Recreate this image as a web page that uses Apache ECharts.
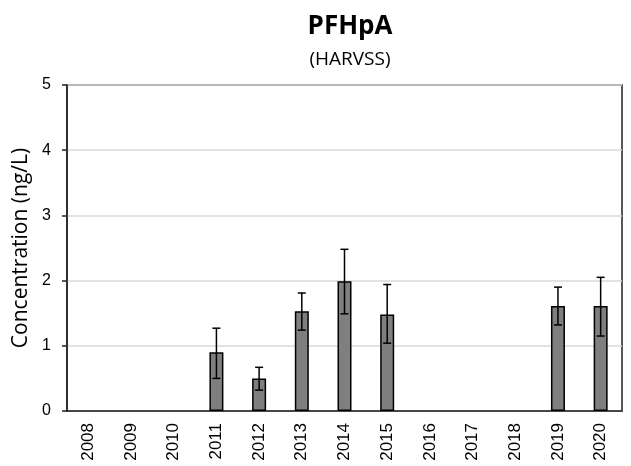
<!DOCTYPE html>
<html>
<head>
<meta charset="utf-8">
<script src="https://cdn.jsdelivr.net/npm/echarts@6/dist/echarts.min.js"></script>
<style>
html,body{margin:0;padding:0;background:#fff;}
#main{width:631px;height:466px;}
</style>
</head>
<body>
<div id="main"></div>
<script>
var years=['2008','2009','2010','2011','2012','2013','2014','2015','2016','2017','2018','2019','2020'];
var means=[null,null,null,0.90,0.50,1.53,1.99,1.48,null,null,null,1.61,1.61];
var errLow=[null,null,null,0.50,0.32,1.24,1.49,1.04,null,null,null,1.32,1.15];
var errHigh=[null,null,null,1.27,0.67,1.81,2.48,1.94,null,null,null,1.90,2.05];

var errData=[];
for(var i=0;i<years.length;++i){
	if(means[i]!=null){
		errData.push([i,errLow[i],errHigh[i]]);
	}
}

var myChart=echarts.init(document.getElementById('main'));
var option={
	animation:false,
	title:[
		{text:'PFHpA',left:345,top:9,textAlign:'center',
		 textStyle:{fontFamily:'Open Sans',fontSize:26,fontWeight:'bold',color:'#000'}},
		{text:'(HARVSS)',left:345,top:45,textAlign:'center',
		 textStyle:{fontFamily:'Open Sans',fontSize:19,fontWeight:'normal',color:'#000'}}
	],
	grid:{left:67,right:9,top:85,bottom:55,show:true,borderColor:'#222',borderWidth:1.5,backgroundColor:'transparent'},
	xAxis:{
		type:'category',
		data:years,
		axisLine:{lineStyle:{color:'#222',width:1.5}},
		axisTick:{alignWithLabel:true,length:5,lineStyle:{color:'#222',width:1.5}},
		axisLabel:{rotate:90,fontFamily:'Liberation Sans',fontSize:17,color:'#000',margin:12}
	},
	yAxis:{
		type:'value',
		min:0,max:5,interval:1,
		name:'Concentration (ng/L)',
		nameLocation:'middle',
		nameGap:35,
		nameTextStyle:{fontFamily:'Open Sans',fontSize:21,color:'#000'},
		axisLine:{show:true,lineStyle:{color:'#222',width:1.5}},
		axisTick:{show:true,length:5,lineStyle:{color:'#222',width:1.5}},
		axisLabel:{fontFamily:'Liberation Sans',fontSize:16,color:'#000',margin:16},
		splitLine:{lineStyle:{color:'#d9d9d9',width:1.5}}
	},
	series:[
		{
			type:'bar',
			data:means,
			barWidth:14,
			itemStyle:{color:'#7f7f7f',borderColor:'#000',borderWidth:1.5}
		},
		{
			type:'custom',
			data:errData,
			z:10,
			renderItem:function(params,api){
				var x=api.value(0);
				var lo=api.coord([x,api.value(1)]);
				var hi=api.coord([x,api.value(2)]);
				var hw=4;
				var st={stroke:'#000',lineWidth:1.5};
				return {
					type:'group',
					children:[
						{type:'line',shape:{x1:lo[0],y1:lo[1],x2:hi[0],y2:hi[1]},style:st},
						{type:'line',shape:{x1:lo[0]-hw,y1:lo[1],x2:lo[0]+hw,y2:lo[1]},style:st},
						{type:'line',shape:{x1:hi[0]-hw,y1:hi[1],x2:hi[0]+hw,y2:hi[1]},style:st}
					]
				};
			}
		}
	]
};
myChart.setOption(option);
</script>
</body>
</html>
